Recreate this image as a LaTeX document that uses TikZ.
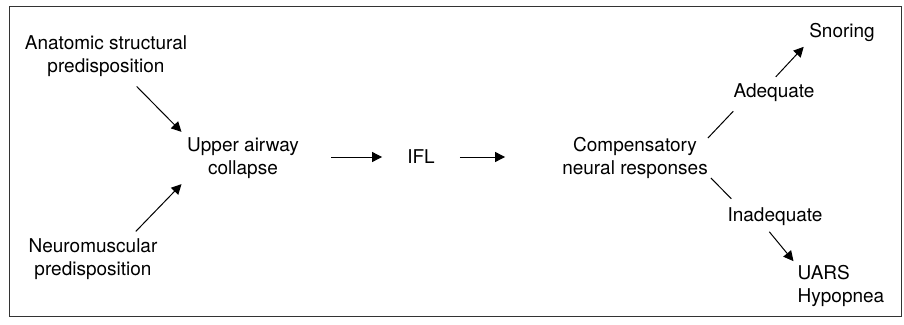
\documentclass[tikz,border=0pt]{standalone}
\usepackage{fontspec}
\setmainfont{TeX Gyre Heros}
\usetikzlibrary{positioning, arrows.meta}

\begin{document}
\begin{tikzpicture}[
  x=1pt, y=-1pt,
  every node/.style={font=\fontsize{19}{23}\selectfont, align=center, inner sep=4pt},
  arrow/.style={line width=1pt, -{Triangle[length=10pt, width=10pt]}},
  branch/.style={line width=1pt}
]
\useasboundingbox (0,0) rectangle (904,324);
\draw[line width=1pt, black!80] (9,6) rectangle (901,316);

\node (anat) at (106,56) {Anatomic structural\\ predisposition};
\node (neuro) at (93,259) {Neuromuscular\\ predisposition};
\node (upper) at (243,158) {Upper airway\\ collapse};
\node (ifl) at (421,157) {IFL};
\node (comp) at (635,158) {Compensatory\\ neural responses};
\node (adeq) at (774,93) {Adequate};
\node (inad) at (775,217) {Inadequate};
\node (snor) at (842,32) {Snoring};
\node[align=left] (uars) at (841,286) {UARS\\ Hypopnea};

% Arrows
\draw[arrow, shorten <=8pt, shorten >=2pt] ([xshift=25pt]anat.south) -- (upper.north west);
\draw[arrow, shorten <=4pt, shorten >=2pt] ([xshift=40pt]neuro.north) -- (upper.south west);
\draw[arrow, shorten <=28pt, shorten >=21pt] (upper.east |- ifl) -- (ifl);
\draw[arrow, shorten <=21pt, shorten >=53pt] (ifl) -- (comp.west |- ifl);
\draw[branch] ([xshift=-4pt, yshift=20pt]comp.east) -- ([xshift=4pt, yshift=-5pt]adeq.south west);
\draw[branch] ([xshift=-1pt, yshift=-20pt]comp.east) -- ([xshift=8pt, yshift=5pt]inad.north west);
\draw[arrow, shorten <=4pt, shorten >=2pt] ([xshift=-1pt]adeq.north) -- (snor.south west);
\draw[arrow, shorten <=2pt] ([xshift=-7pt]inad.south) -- (uars.north west);

\end{tikzpicture}
\end{document}
